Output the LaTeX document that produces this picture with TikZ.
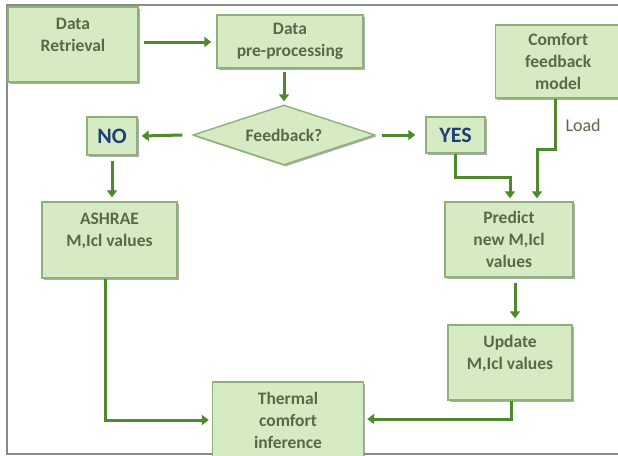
\documentclass[tikz,border=0pt]{standalone}
\usepackage{fontspec}
\setmainfont{Carlito}
\usetikzlibrary{shapes.geometric,arrows.meta,shadows}
\definecolor{boxfill}{HTML}{D6EBC4}
\definecolor{boxedge}{HTML}{8FB078}
\definecolor{arrowc}{HTML}{4E8A2C}
\definecolor{txtc}{HTML}{566A4A}
\definecolor{yesno}{HTML}{1E3F78}
\definecolor{framec}{HTML}{8A8A8A}
\tikzset{
  box/.style={draw=boxedge, line width=1.4pt, fill=boxfill, inner sep=1pt,
    text=txtc, align=center, font=\fontsize{17.5}{22}\selectfont\bfseries,
    drop shadow={shadow xshift=1.6pt, shadow yshift=-1.6pt, fill=black!45, opacity=0.7}},
  yn/.style={box, text=yesno, font=\fontsize{22}{24}\selectfont\bfseries},
  arr/.style={draw=arrowc, line width=3pt, -{Triangle[length=7pt,width=10pt]}},
}
\begin{document}
\begin{tikzpicture}[x=1pt,y=-1pt]
\useasboundingbox (0,0) rectangle (618,455);
\clip (0,0) rectangle (618,455);
\fill[white] (0,0) rectangle (618,455);
\draw[framec, line width=1.2pt] (618,5) -- (7,5) -- (7,454) -- (618,454);
\node[box, minimum width=130pt, minimum height=75pt] (ret) at (73,44.5) {Data\\Retrieval\\[-2pt]};
\node[box, minimum width=146pt, minimum height=53pt] (pre) at (290,41.5) {Data\\pre-processing};
\node[box, minimum width=125pt, minimum height=73pt, anchor=west] (cfm) at (495,61.5) {Comfort\\feedback\\model};
\node[diamond, draw=boxedge, line width=1.4pt, fill=boxfill, aspect=3, inner sep=0pt,
  minimum width=182pt, minimum height=60pt, text=txtc,
  font=\fontsize{17.5}{22}\selectfont\bfseries,
  drop shadow={shadow xshift=1.6pt, shadow yshift=-1.6pt, fill=black!45, opacity=0.7}] (fb) at (284,135) {Feedback?};
\node[yn, minimum width=50pt, minimum height=38pt] (no) at (112,136) {NO};
\node[yn, minimum width=59pt, minimum height=36pt] (yes) at (455.5,135) {YES};
\node[box, minimum width=135pt, minimum height=76pt] (ash) at (109.5,240) {ASHRAE\\M,Icl values\\[-2pt]};
\node[box, minimum width=128pt, minimum height=75pt] (pred) at (509,239.5) {Predict\\new M,Icl\\values};
\node[box, minimum width=124pt, minimum height=75pt] (upd) at (510,362.5) {Update\\M,Icl values\\[-2pt]};
\node[box, minimum width=151pt, minimum height=76pt] (thc) at (288,420) {Thermal\\comfort\\inference};
\draw[arr] ([xshift=5pt]ret.east |- 0,42) -- ([xshift=-5pt]pre.west |- 0,42);
\draw[arr] ([yshift=-3pt]pre.south -| fb.north) -- ([yshift=3pt]fb.north);
\draw[arr] ([xshift=-10pt]fb.west) -- ([xshift=4pt]no.east);
\draw[arr] ([xshift=6pt]fb.east) -- ([xshift=-10pt]yes.west);
\draw[arr] ([yshift=-5pt]no.south) -- ([yshift=4pt]ash.north -| no.south);
\draw[arr] (yes.south) |- (510,177) -- ([yshift=3pt]pred.north -| 510,0);
\draw[arr] (cfm.south -| 555,0) |- (537,149) -- ([yshift=3pt]pred.north -| 537,0);
\node[text=txtc, font=\fontsize{18}{20}\selectfont, anchor=west] (load) at (562,125) {Load};
\draw[arr] ([yshift=-5pt]pred.south -| 515,0) -- ([yshift=6pt]upd.north -| 515,0);
\draw[arr] (ash.south -| 105,0) |- ([xshift=-3pt]thc.west |- 0,420);
\draw[arr] (upd.south -| 511,0) |- ([xshift=3pt]thc.east |- 0,419);
\end{tikzpicture}
\end{document}
